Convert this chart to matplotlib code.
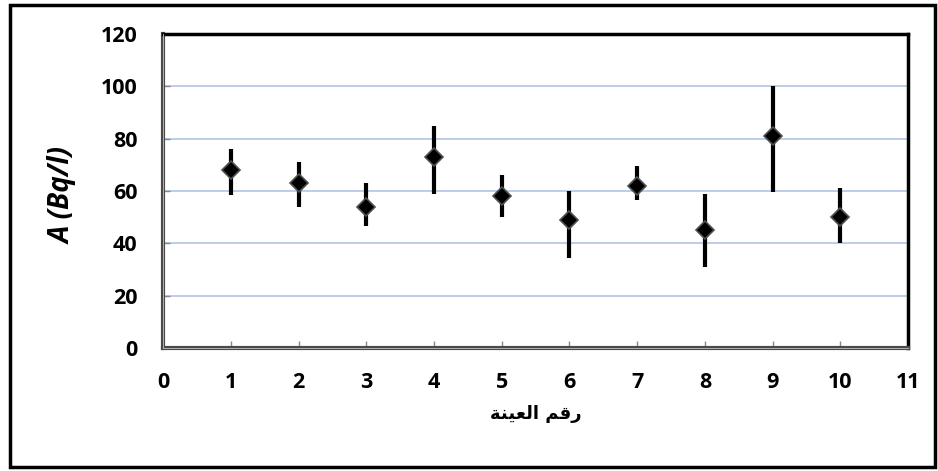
import matplotlib
matplotlib.use('Agg')
import matplotlib.pyplot as plt
from matplotlib.patches import Rectangle

# Sample number and activity values
samples = [1, 2, 3, 4, 5, 6, 7, 8, 9, 10]
activity = [68, 63, 54, 73, 58, 49, 62, 45, 81, 50]
upper = [76, 71, 63, 85, 66, 60, 69.5, 59, 100, 61]
lower = [58.5, 54, 46.5, 59, 50, 34.5, 56.5, 31, 59.5, 40]

err_low = [a - l for a, l in zip(activity, lower)]
err_high = [u - a for a, u in zip(activity, upper)]

x_ticks = list(range(0, 12))
y_ticks = list(range(0, 121, 20))

# Arabic axis title, written in presentation forms (visual order) so it shows joined
x_title = '\ufe94\ufee8\ufef4\ufecc\ufedf\ufe8d \ufee2\ufed7\ufead'
y_title = 'A (Bq/l)'

plt.rcParams['font.family'] = ['Open Sans', 'DejaVu Sans']

fig = plt.figure(figsize=(9.38, 4.71), dpi=100)
ax = fig.add_axes([0.1738, 0.2611, 0.7944, 0.6667])

# outer frame of the chart
fig.patches.append(Rectangle((0.0107, 0.0085), 0.986, 0.981, transform=fig.transFigure,
                             fill=False, edgecolor='black', linewidth=2.5))

ax.errorbar(samples, activity, yerr=[err_low, err_high], fmt='none',
            ecolor='black', elinewidth=3, capsize=0, zorder=3)
ax.plot(samples, activity, linestyle='none', marker='D', markersize=9.5,
        markerfacecolor='black', markeredgecolor='#505050', markeredgewidth=1.2, zorder=4)

ax.set_xlim(0, 11)
ax.set_ylim(0, 120)
ax.set_xticks(x_ticks)
ax.set_yticks(y_ticks)

ax.yaxis.grid(True, color='#bccde8', linewidth=1.4)
ax.set_axisbelow(True)

for side in ['top', 'right']:
    ax.spines[side].set_color('black')
    ax.spines[side].set_linewidth(2.5)
for side in ['left', 'bottom']:
    ax.spines[side].set_color('#4a4a4a')
    ax.spines[side].set_linewidth(3)
# light inner stroke gives the left/bottom axis its double-line look
ax.axvline(0, color='#b0b0b0', linewidth=0.7, clip_on=False, zorder=5)
ax.axhline(0, color='#b0b0b0', linewidth=0.7, clip_on=False, zorder=5)

ax.tick_params(axis='both', direction='in', length=5, width=1, color='#888888',
               labelsize=15.5)
ax.tick_params(axis='y', pad=18.5)
ax.tick_params(axis='x', pad=17)
for lbl in ax.get_xticklabels() + ax.get_yticklabels():
    lbl.set_fontweight('bold')

ax.set_xlabel(x_title, fontsize=13, fontweight='bold', family=['DejaVu Sans'])
ax.set_ylabel(y_title, fontsize=20, fontweight='bold', fontstyle='italic')
ax.xaxis.set_label_coords(0.5, -0.18)
ax.yaxis.set_label_coords(-0.114, 0.487)

fig.savefig('out.png', dpi=100)
